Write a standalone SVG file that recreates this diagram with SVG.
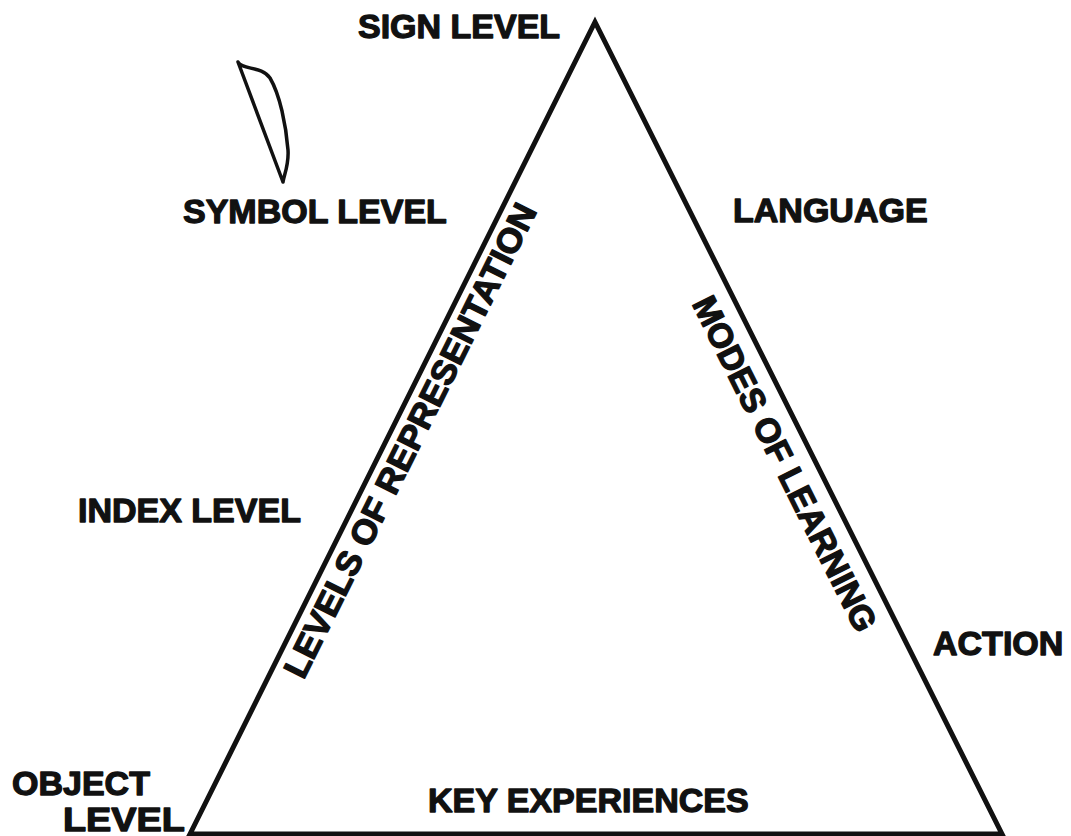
<svg xmlns="http://www.w3.org/2000/svg" width="1071" height="836" viewBox="0 0 1071 836">
<style>
.t{font-family:"Liberation Sans",Arial,Helvetica,sans-serif;font-weight:bold;font-size:34px;fill:#111;stroke:#111;stroke-width:1.3;stroke-linejoin:round}
.edge{fill:none;stroke:#111;stroke-width:5;stroke-linejoin:miter}
.mark{fill:none;stroke:#111;stroke-width:3.5;stroke-linecap:round;stroke-linejoin:round}
</style>
<rect width="1071" height="836" fill="#fff"/>
<g id="connectors">
<polygon class="edge" points="190,834 595,22 1002,834"/>
</g>
<g id="sign-level"><text class="t" x="358" y="38">SIGN LEVEL</text></g>
<g id="symbol-level"><text class="t" x="183" y="223" font-size="35">SYMBOL LEVEL</text></g>
<g id="index-level"><text class="t" x="78" y="522">INDEX LEVEL</text></g>
<g id="object-level"><text class="t" x="12" y="795" font-size="31">OBJECT</text><text class="t" x="63" y="831" font-size="31" textLength="122" lengthAdjust="spacingAndGlyphs">LEVEL</text></g>
<g id="language"><text class="t" x="733" y="222">LANGUAGE</text></g>
<g id="action"><text class="t" x="933" y="655">ACTION</text></g>
<g id="key-experiences"><text class="t" x="428" y="812">KEY EXPERIENCES</text></g>
<g id="levels-of-representation"><text class="t" transform="translate(303.4,680.5) rotate(-63.5)" textLength="525" lengthAdjust="spacingAndGlyphs">LEVELS OF REPRESENTATION</text></g>
<g id="modes-of-learning"><text class="t" transform="translate(691.4,303.6) rotate(63.4)" textLength="370" lengthAdjust="spacingAndGlyphs">MODES OF LEARNING</text></g>
<g id="pen-mark"><path class="mark" d="M238,62 L283,182 M238,62 C242,70 262,66 270,78 C280,95 286,125 288,150 C289,165 284,175 283,182"/></g>
</svg>
